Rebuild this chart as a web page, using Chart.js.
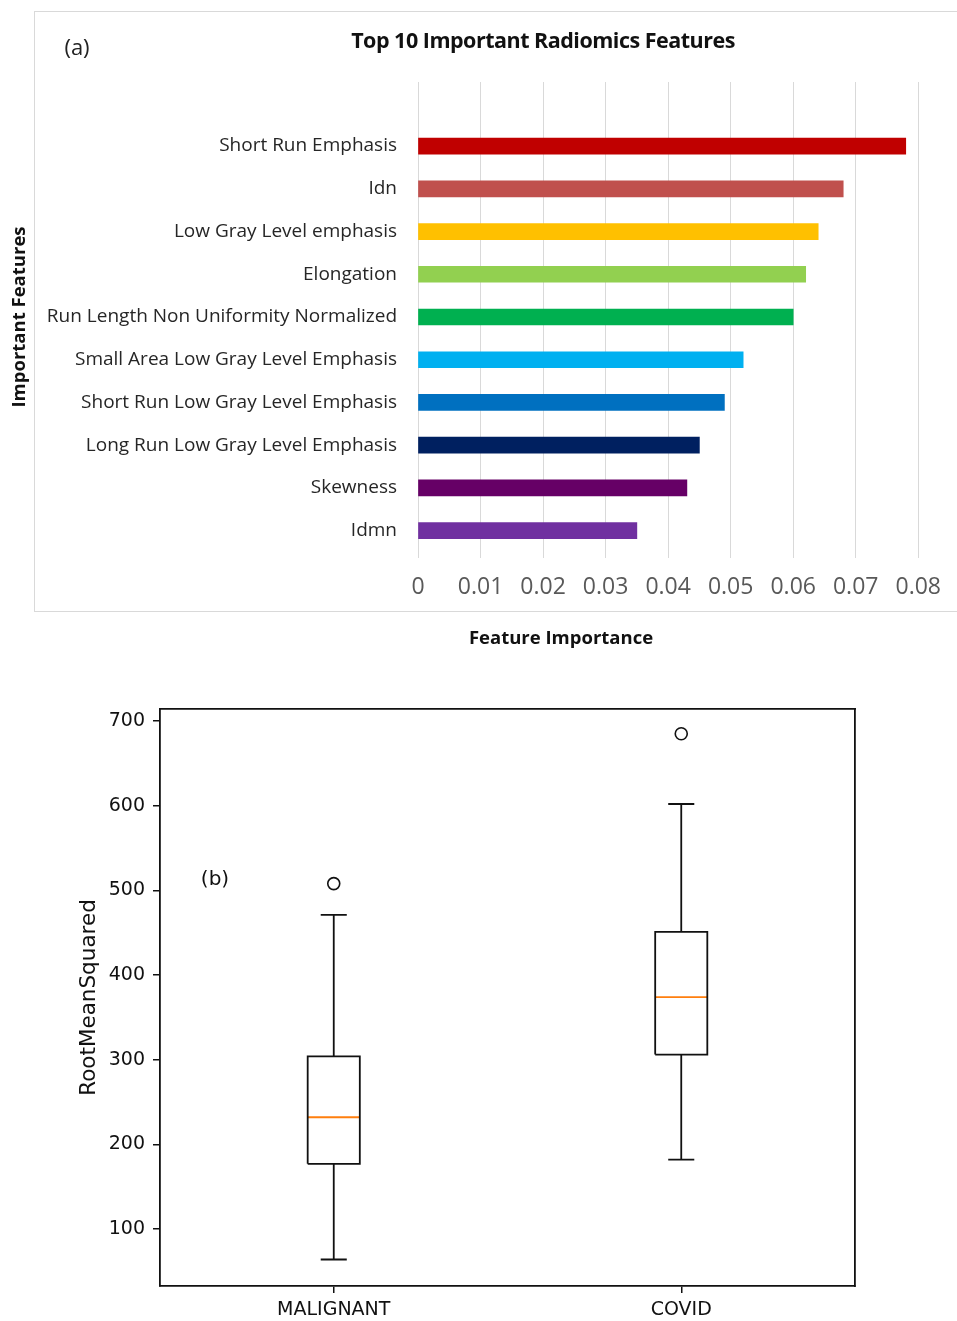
<!DOCTYPE html>
<html><head><meta charset="utf-8">
<script src="https://cdn.jsdelivr.net/npm/chart.js@4.4.0/dist/chart.umd.min.js"></script>
<style>
html,body{margin:0;padding:0;background:#fff;}
body{width:957px;height:1321px;position:relative;overflow:hidden;}
canvas{position:absolute;}
#frameA{position:absolute;left:34px;top:11px;width:940px;height:601px;border:1px solid #d9d9d9;box-sizing:border-box;}
.lbl{position:absolute;transform:translate(-50%,-50%);white-space:nowrap;}
</style></head><body>
<div id="frameA"></div>
<canvas id="cA" width="957" height="660" style="left:0;top:0;width:957px;height:660px"></canvas>
<canvas id="cB" width="957" height="651" style="left:0;top:670px;width:957px;height:651px"></canvas>
<div class="lbl" style="left:543px;top:39px;font:bold 21.5px 'Open Sans';color:#111;letter-spacing:-0.5px;">Top 10 Important Radiomics Features</div>
<div class="lbl" style="left:77px;top:46px;font:22px 'Open Sans';color:#222;">(a)</div>
<div class="lbl" style="left:561px;top:636px;font:bold 18.5px 'Open Sans';color:#111;">Feature Importance</div>
<div class="lbl" style="left:215px;top:878px;font:20px 'DejaVu Sans';color:#111;">(b)</div>
<script>
// ---- Chart (a) data ----
const featureLabels = ['Short Run Emphasis','Idn','Low Gray Level emphasis','Elongation','Run Length Non Uniformity Normalized','Small Area Low Gray Level Emphasis','Short Run Low Gray Level Emphasis','Long Run Low Gray Level Emphasis','Skewness','Idmn'];
const featureImportance = [0.078,0.068,0.064,0.062,0.060,0.052,0.049,0.045,0.043,0.035];
const barColors = ['#C00000','#C0504D','#FFC000','#92D050','#00B050','#00B0F0','#0070C0','#002060','#660066','#7030A0'];
const xTickValues = [0,0.01,0.02,0.03,0.04,0.05,0.06,0.07,0.08];
const xTickLabels = ['0','0.01','0.02','0.03','0.04','0.05','0.06','0.07','0.08'];

// ---- Chart (b) data ----
const groups = ['MALIGNANT','COVID'];
const whiskerLow = [64,182];
const quartile1 = [177,306];
const medians = [232,374];
const quartile3 = [304,451];
const whiskerHigh = [471,602];
const outliers = [[508],[685]];
const yTickValuesB = [100,200,300,400,500,600,700];

new Chart(document.getElementById('cA'), {
  type:'bar',
  data:{datasets:[{data:featureImportance.map((v,i)=>({x:v,y:i})), backgroundColor:barColors, barThickness:16, borderWidth:0}]},
  options:{
    indexAxis:'y', responsive:false, animation:false, devicePixelRatio:1,
    layout:{padding:{left:0,right:37,top:82,bottom:62}},
    plugins:{legend:{display:false},tooltip:{enabled:false}},
    scales:{
      x:{type:'linear',position:'bottom',min:0,max:0.08,
        afterBuildTicks:s=>{s.ticks=xTickValues.map(v=>({value:v}));},
        afterFit:s=>{s.height=46;},
        ticks:{callback:(v,i)=>xTickLabels[i],color:'#595959',font:{family:'Open Sans',size:23},padding:16,maxRotation:0,autoSkip:false},
        grid:{color:'#d9d9d9',lineWidth:1,drawTicks:true,tickLength:6},
        border:{display:false}},
      y:{type:'linear',min:-1.5,max:9.5,reverse:true,offset:false,
        afterBuildTicks:s=>{s.ticks=featureLabels.map((_,i)=>({value:i}));},
        afterFit:s=>{s.width=418;},
        ticks:{callback:(v,i)=>featureLabels[i],color:'#262626',font:{family:'Open Sans',size:19},padding:21,autoSkip:false},
        grid:{display:false,drawTicks:false,offset:false},border:{display:false},
        title:{display:true,text:'Important Features',font:{family:'Open Sans',size:18.5,weight:'bold'},color:'#111',padding:{top:9,bottom:0}}}
    }
  }
});

const half=0.075, capHalf=0.0375;
const boxPts=[], whiskPts=[], medPts=[], outPts=[];
groups.forEach((g,i)=>{
  const p=i+1;
  boxPts.push({x:p-half,y:quartile1[i]},{x:p+half,y:quartile1[i]},{x:p+half,y:quartile3[i]},{x:p-half,y:quartile3[i]},{x:p-half,y:quartile1[i]},{x:p,y:null});
  whiskPts.push({x:p,y:quartile3[i]},{x:p,y:whiskerHigh[i]},{x:p,y:null},
    {x:p-capHalf,y:whiskerHigh[i]},{x:p+capHalf,y:whiskerHigh[i]},{x:p,y:null},
    {x:p,y:quartile1[i]},{x:p,y:whiskerLow[i]},{x:p,y:null},
    {x:p-capHalf,y:whiskerLow[i]},{x:p+capHalf,y:whiskerLow[i]},{x:p,y:null});
  medPts.push({x:p-half,y:medians[i]},{x:p+half,y:medians[i]},{x:p,y:null});
  outliers[i].forEach(v=>outPts.push({x:p,y:v}));
});
const lineDs=(d,c)=>({data:d,borderColor:c,borderWidth:1.8,pointRadius:0,spanGaps:false,fill:false,tension:0});
new Chart(document.getElementById('cB'), {
  type:'line',
  data:{datasets:[
    lineDs(boxPts,'#111'),
    lineDs(whiskPts,'#111'),
    lineDs(medPts,'#ff7f0e'),
    {type:'scatter',data:outPts,pointRadius:6,pointBorderWidth:1.6,pointBorderColor:'#111',pointBackgroundColor:'rgba(0,0,0,0)',showLine:false}
  ]},
  options:{
    responsive:false, animation:false, devicePixelRatio:1,
    layout:{padding:{left:0,right:102,top:39,bottom:0}},
    plugins:{legend:{display:false},tooltip:{enabled:false}},
    scales:{
      x:{type:'linear',position:'bottom',min:0.5,max:2.5,
        afterBuildTicks:s=>{s.ticks=groups.map((_,i)=>({value:i+1}));},
        afterFit:s=>{s.height=35;},
        ticks:{callback:(v,i)=>groups[i],color:'#111',font:{family:'DejaVu Sans',size:19},padding:6,maxRotation:0,autoSkip:false},
        grid:{drawOnChartArea:false,drawTicks:true,tickLength:7,color:'#111',lineWidth:1.5},
        border:{display:true,color:'#111',width:1.8}},
      y:{type:'linear',min:32.7,max:714.2,
        afterBuildTicks:s=>{s.ticks=yTickValuesB.map(v=>({value:v}));},
        afterFit:s=>{s.width=160;},
        ticks:{color:'#111',font:{family:'DejaVu Sans',size:19},padding:8},
        grid:{drawOnChartArea:false,drawTicks:true,tickLength:7,color:'#111',lineWidth:1.5},
        border:{display:true,color:'#111',width:1.8},
        title:{display:true,text:'RootMeanSquared',font:{family:'DejaVu Sans',size:21.5},color:'#111',padding:{top:77,bottom:0}}},
      xTop:{type:'linear',position:'top',min:0.5,max:2.5,afterFit:s=>{s.height=0;},ticks:{display:false},grid:{display:false,drawTicks:false},border:{display:true,color:'#111',width:1.8}},
      yRight:{type:'linear',position:'right',min:0,max:1,afterFit:s=>{s.width=0;},ticks:{display:false},grid:{display:false,drawTicks:false},border:{display:true,color:'#111',width:1.8}}
    }
  }
});
</script>
</body></html>
